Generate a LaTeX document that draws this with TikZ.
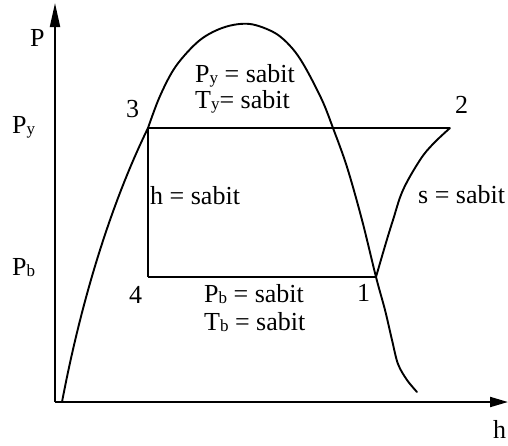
\documentclass[tikz,border=0pt]{standalone}
\usepackage{fontspec}
\setmainfont{Liberation Serif}
\usetikzlibrary{arrows.meta}
\newcommand{\lowsub}[1]{{\fontsize{17}{17}\selectfont\raisebox{-1.2pt}{#1}}}
\begin{document}
\begin{tikzpicture}[x=1pt,y=-1pt,
  curve/.style={line width=1.9pt, line join=round, line cap=round},
  axis/.style={line width=2pt},
  lbl/.style={inner sep=0pt, anchor=base west, font=\fontsize{26}{30}\selectfont}]
\useasboundingbox (0,0) rectangle (508,445);
% axes
\coordinate (O) at (55,402);
\coordinate (ytip) at (55,3);
\coordinate (xtip) at (508,402);
\draw[axis, -{Triangle[length=24pt,width=10pt]}] (O) -- (ytip);
\draw[axis, -{Triangle[length=18pt,width=10pt]}] (O) -- (xtip);
% cycle points
\coordinate (p1) at (376,277);
\coordinate (p2) at (450,128);
\coordinate (p3) at (148,128);
\coordinate (p4) at (148,277);
\coordinate (d0) at (62,402);
% saturation dome
\draw[curve] (d0) .. controls (81,302) and (110,206) .. (p3);
\draw[curve] plot[smooth, tension=0.55] coordinates {
 (148,128) (160,96) (176,66) (200,40) (225,27) (250,24) (275,33) (292,48) (305,67)
 (322,100) (333,128) (347,167) (362,220) (376,277) (385,310) (392,340) (398,364) (407,380) (417,392)};
\draw[curve, line cap=butt] (p4) -- (p3) -- (p2);
\draw[curve, line cap=butt] (p4) -- (p1);
% isentrope 1-2
\draw[curve] plot[smooth, tension=0.6] coordinates {
 (376,277) (385,246) (393,220) (403,190) (420,160) (433,144) (450,128)};
% labels
\node[lbl] (lP) at (30,46) {P};
\node[lbl] (lh) at (493,438) {h};
\node[lbl] (lPy) at (12,133) {P\lowsub{y}};
\node[lbl] (lPb) at (12,275) {P\lowsub{b}};
\node[lbl] (l3) at (126,117) {3};
\node[lbl] (l2) at (455,113) {2};
\node[lbl] (l4) at (129,303) {4};
\node[lbl] (l1) at (357,301) {1};
\node[lbl] (tPy) at (195,82) {P\lowsub{y} = sabit};
\node[lbl] (tTy) at (195,108) {T\lowsub{y}= sabit};
\node[lbl] (th) at (150,204) {h = sabit};
\node[lbl] (ts) at (418,203) {s = sabit};
\node[lbl] (tPb) at (204,302) {P\lowsub{b} = sabit};
\node[lbl] (tTb) at (204,330) {T\lowsub{b} = sabit};
\end{tikzpicture}
\end{document}
